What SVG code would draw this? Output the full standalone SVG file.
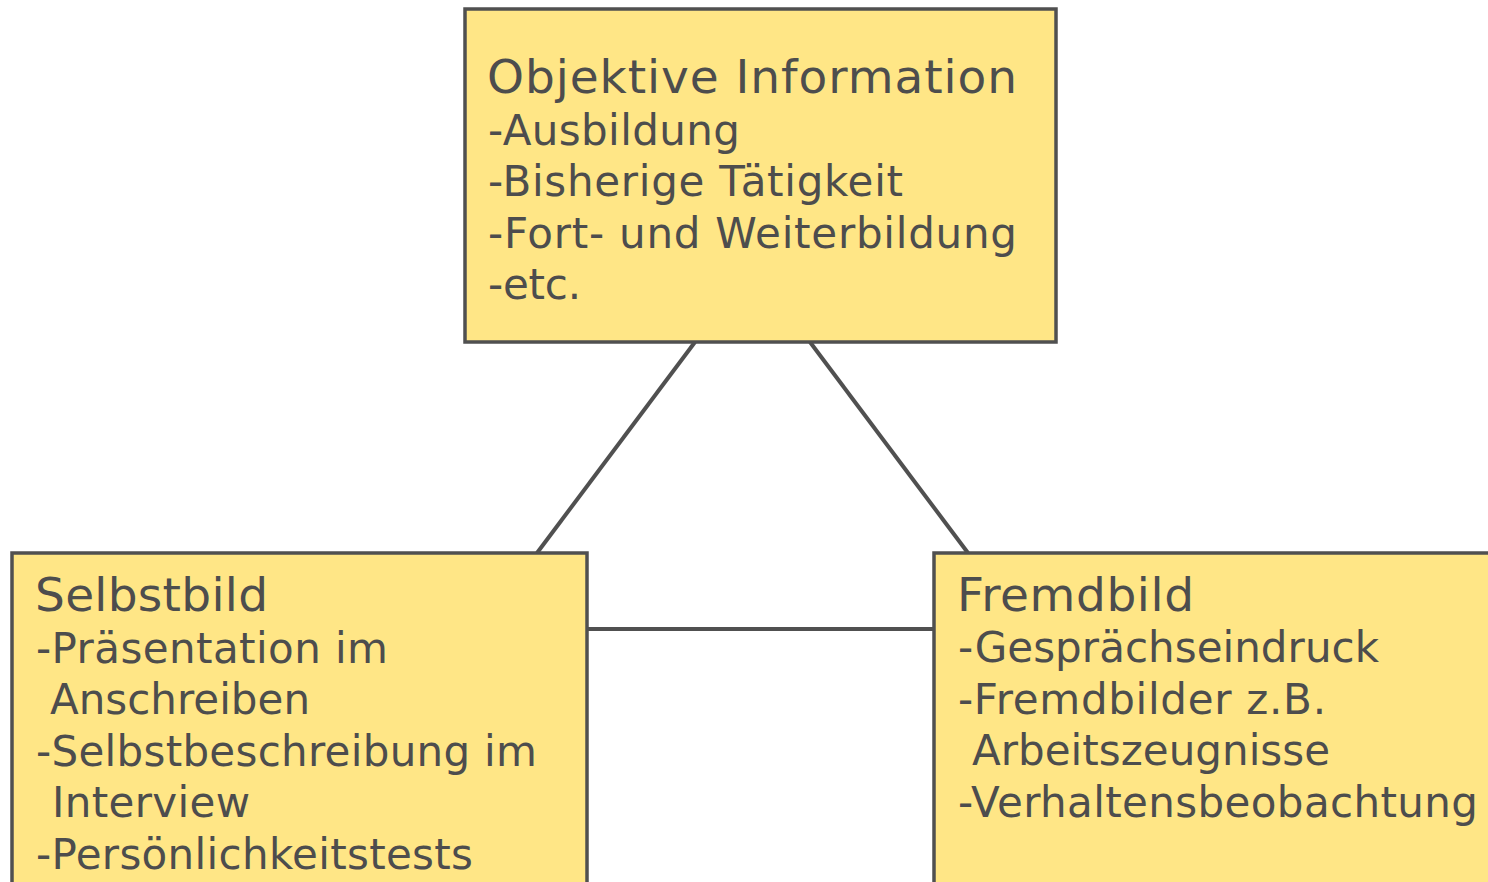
<svg xmlns="http://www.w3.org/2000/svg" width="1488" height="882" viewBox="0 0 1488 882">
<style>
.box{fill:#FFE686;stroke:#505050;stroke-width:3.5}
.conn{stroke:#505050;stroke-width:4;fill:none}
.t{font-family:"DejaVu Sans",Verdana,sans-serif;fill:#4d4d4d;font-size:42px}
.h{font-size:47px}
</style>
<rect width="1488" height="882" fill="#ffffff"/>
<g id="connectors">
<line class="conn" x1="695" y1="342" x2="537" y2="553"/>
<line class="conn" x1="810" y1="342" x2="968" y2="553"/>
<line class="conn" x1="587" y1="629" x2="934" y2="629"/>
</g>
<g id="objektive">
<rect class="box" x="465" y="9" width="591" height="333"/>
<text class="t h" x="487" y="93" textLength="530" lengthAdjust="spacing">Objektive Information</text>
<text class="t" x="488" y="145" textLength="252" lengthAdjust="spacing">-Ausbildung</text>
<text class="t" x="488" y="196" textLength="415" lengthAdjust="spacing">-Bisherige Tätigkeit</text>
<text class="t" x="488" y="248" textLength="529" lengthAdjust="spacing">-Fort- und Weiterbildung</text>
<text class="t" x="488" y="299" textLength="93" lengthAdjust="spacing">-etc.</text>
</g>
<g id="selbstbild">
<rect class="box" x="12" y="553" width="575" height="350"/>
<text class="t h" x="35" y="611" textLength="233" lengthAdjust="spacing">Selbstbild</text>
<text class="t" x="36" y="663" textLength="352" lengthAdjust="spacing">-Präsentation im</text>
<text class="t" x="50" y="714" textLength="260" lengthAdjust="spacing">Anschreiben</text>
<text class="t" x="36" y="766" textLength="501" lengthAdjust="spacing">-Selbstbeschreibung im</text>
<text class="t" x="52" y="817" textLength="198" lengthAdjust="spacing">Interview</text>
<text class="t" x="36" y="869" textLength="437" lengthAdjust="spacing">-Persönlichkeitstests</text>
</g>
<g id="fremdbild">
<rect class="box" x="934" y="553" width="580" height="350"/>
<text class="t h" x="957" y="611" textLength="237" lengthAdjust="spacing">Fremdbild</text>
<text class="t" x="958" y="662" textLength="421" lengthAdjust="spacing">-Gesprächseindruck</text>
<text class="t" x="958" y="714" textLength="368" lengthAdjust="spacing">-Fremdbilder z.B.</text>
<text class="t" x="972" y="765" textLength="358" lengthAdjust="spacing">Arbeitszeugnisse</text>
<text class="t" x="958" y="817" textLength="520" lengthAdjust="spacing">-Verhaltensbeobachtung</text>
</g>
</svg>
